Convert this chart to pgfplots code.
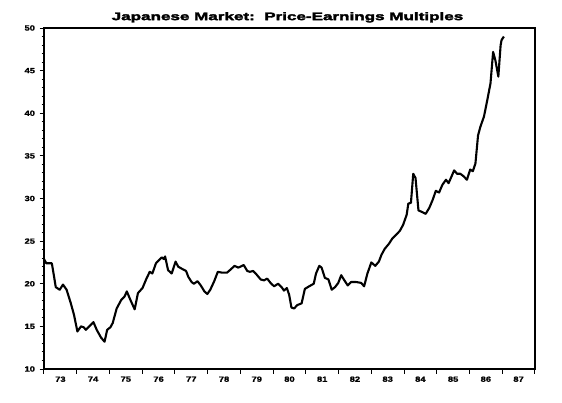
\documentclass[border=0pt]{standalone}
\usepackage{fontspec}
\setmainfont{Liberation Sans}
\newfontfamily\heavy{Liberation Sans Bold}[FakeBold=3,FakeStretch=1.55]
\newfontfamily\tickf{Liberation Sans Bold}[FakeBold=1.2,FakeStretch=1.25]
\usepackage{pgfplots}
\pgfplotsset{compat=1.18}
\begin{document}
\begin{tikzpicture}[x=1pt,y=1pt]
\path[use as bounding box] (0,0) rectangle (562,402);
\begin{axis}[
  at={(44pt,33pt)}, anchor=south west,
  scale only axis, width=491pt, height=341pt,
  xmin=1973, xmax=1988, ymin=10, ymax=50,
  axis line style={line width=1.1pt},
  xtick={1973,...,1988}, xticklabels={},
  extra x ticks={1973.5,1974.5,...,1987.5},
  extra x tick labels={73,74,75,76,77,78,79,80,81,82,83,84,85,86,87},
  extra x tick style={major tick length=0pt, grid=none},
  ytick={10,15,...,50},
  minor y tick num=4,
  tick align=outside,
  xtick pos=bottom, ytick pos=left,
  major tick length=4.5pt, minor tick length=2.5pt,
  every tick/.style={black, line width=1pt},
  tick label style={font=\tickf\fontsize{7.5}{8}\selectfont},
  /pgf/number format/assume math mode=true,
  xticklabel style={yshift=-4pt},
  yticklabel style={xshift=-1pt},
  title={\heavy\fontsize{11}{12}\selectfont Japanese Market:\ \ Price-Earnings Multiples},
  title style={yshift=-4pt, xshift=-2pt},
]
\addplot[black, line width=2.1pt, line join=round] coordinates {
(1973.00,22.9)(1973.07,22.4)(1973.24,22.4)(1973.36,19.6)(1973.48,19.3)
(1973.58,19.9)(1973.69,19.3)(1973.82,17.7)(1973.92,16.3)(1974.02,14.4)
(1974.13,15.0)(1974.21,14.9)(1974.28,14.6)(1974.38,15.0)(1974.51,15.5)
(1974.61,14.6)(1974.74,13.7)(1974.85,13.2)(1974.93,14.6)(1975.03,14.9)
(1975.10,15.4)(1975.22,17.1)(1975.36,18.1)(1975.46,18.5)(1975.53,19.1)
(1975.64,18.1)(1975.77,17.0)(1975.87,18.9)(1976.01,19.5)(1976.13,20.6)
(1976.23,21.4)(1976.31,21.2)(1976.42,22.4)(1976.52,22.8)(1976.60,23.1)
(1976.66,22.9)(1976.70,23.2)(1976.79,21.6)(1976.90,21.2)(1977.02,22.6)
(1977.10,22.0)(1977.24,21.7)(1977.34,21.5)(1977.41,20.8)(1977.51,20.2)
(1977.58,20.0)(1977.69,20.3)(1977.79,19.8)(1977.90,19.1)(1977.99,18.8)
(1978.08,19.3)(1978.20,20.3)(1978.31,21.4)(1978.44,21.3)(1978.59,21.3)
(1978.71,21.7)(1978.82,22.1)(1978.93,21.9)(1979.00,22.0)(1979.10,22.2)
(1979.21,21.5)(1979.29,21.4)(1979.39,21.5)(1979.49,21.1)(1979.62,20.5)
(1979.72,20.4)(1979.82,20.6)(1979.92,20.1)(1980.03,19.7)(1980.15,20.0)
(1980.26,19.6)(1980.33,19.2)(1980.42,19.5)(1980.49,18.7)(1980.56,17.2)
(1980.64,17.1)(1980.74,17.5)(1980.87,17.7)(1980.97,19.4)(1981.10,19.7)
(1981.24,20.0)(1981.31,21.2)(1981.41,22.1)(1981.48,21.9)(1981.58,20.7)
(1981.69,20.5)(1981.79,19.3)(1981.89,19.6)(1981.99,20.1)(1982.08,21.0)
(1982.16,20.5)(1982.28,19.8)(1982.38,20.2)(1982.54,20.2)(1982.69,20.1)
(1982.78,19.7)(1982.88,21.2)(1983.00,22.5)(1983.12,22.1)(1983.23,22.6)
(1983.31,23.4)(1983.41,24.1)(1983.54,24.7)(1983.64,25.3)(1983.77,25.8)
(1983.87,26.2)(1983.97,26.9)(1984.08,28.1)(1984.13,29.4)(1984.21,29.5)
(1984.28,32.9)(1984.35,32.4)(1984.44,28.6)(1984.56,28.4)(1984.66,28.2)
(1984.77,28.9)(1984.87,29.8)(1984.97,30.9)(1985.07,30.7)(1985.17,31.6)
(1985.28,32.2)(1985.36,31.8)(1985.44,32.5)(1985.53,33.3)(1985.62,32.9)
(1985.72,32.9)(1985.82,32.6)(1985.92,32.2)(1986.02,33.4)(1986.10,33.2)
(1986.18,34.1)(1986.26,37.4)(1986.33,38.4)(1986.44,39.6)(1986.54,41.5)
(1986.64,43.5)(1986.72,47.2)(1986.79,46.2)(1986.88,44.3)(1986.95,48.0)
(1986.98,48.6)(1987.05,49.0)
};
\end{axis}
\end{tikzpicture}
\end{document}
